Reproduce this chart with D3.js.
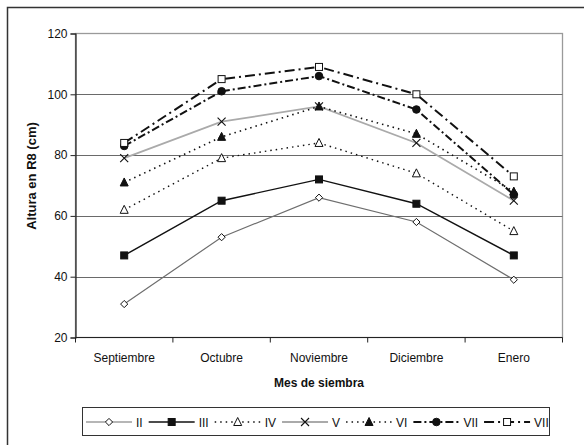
<!DOCTYPE html>
<html>
<head>
<meta charset="utf-8">
<script src="https://cdn.jsdelivr.net/npm/d3@7"></script>
<style>
  html, body { margin: 0; padding: 0; background: #fff; }
  svg { display: block; font-family: Arial, "Liberation Sans", sans-serif; }
  .bold { font-weight: bold; }
</style>
</head>
<body>
<svg id="chart" width="584" height="445"></svg>
<script>
// Months of sowing and the height reached at R8 (cm) for each group
const months = ["Septiembre", "Octubre", "Noviembre", "Diciembre", "Enero"];
const seriesNames = ["II", "III", "IV", "V", "VI", "VII", "VII"];
const valuesII   = [31, 53, 66, 58, 39];
const valuesIII  = [47, 65, 72, 64, 47];
const valuesIV   = [62, 79, 84, 74, 55];
const valuesV    = [79, 91, 96, 84, 65];
const valuesVI   = [71, 86, 96, 87, 68];
const valuesVIIa = [83, 101, 106, 95, 67];
const valuesVIIb = [84, 105, 109, 100, 73];
const yTicks = [20, 40, 60, 80, 100, 120];

const styles = [
  { stroke: "#6e6e6e", width: 1.2, dash: null,        marker: "diamond",  fill: "#fff" },
  { stroke: "#111",    width: 1.4, dash: null,        marker: "square",   fill: "#111" },
  { stroke: "#111",    width: 1.4, dash: "1.5,4",     marker: "triangle", fill: "#fff" },
  { stroke: "#aaaaaa", width: 1.8, dash: null,        marker: "cross",    fill: "none" },
  { stroke: "#111",    width: 1.6, dash: "1.5,4",     marker: "triangle", fill: "#111" },
  { stroke: "#111",    width: 2.0, dash: "8,3,2,3",   marker: "circle",   fill: "#111" },
  { stroke: "#111",    width: 2.0, dash: "10,4,2,4",  marker: "square",   fill: "#fff" }
];
const allValues = [valuesII, valuesIII, valuesIV, valuesV, valuesVI, valuesVIIa, valuesVIIb];
const series = seriesNames.map((name, i) => ({ name, values: allValues[i], style: styles[i] }));

const svg = d3.select("#chart");

// outer frame (runs off the right and bottom edges)
svg.append("rect").attr("x", 7.5).attr("y", 7.5).attr("width", 600).attr("height", 460)
  .attr("fill", "#fff").attr("stroke", "#333").attr("stroke-width", 1.5);

const plot = { left: 75.5, right: 562.5, top: 33.5, bottom: 337.5 };

const x = d3.scaleBand().domain(months).range([plot.left, plot.right]);
const y = d3.scaleLinear().domain([20, 120]).range([plot.bottom, plot.top]);

// plot area border (grey) and gridlines
svg.append("rect").attr("x", plot.left).attr("y", plot.top)
  .attr("width", plot.right - plot.left).attr("height", plot.bottom - plot.top)
  .attr("fill", "none").attr("stroke", "#9a9a9a").attr("stroke-width", 1.3);

svg.append("g").selectAll("line").data(yTicks.filter(t => t > 20 && t < 120)).join("line")
  .attr("x1", plot.left).attr("x2", plot.right)
  .attr("y1", d => Math.round(y(d)) + 0.5).attr("y2", d => Math.round(y(d)) + 0.5)
  .attr("stroke", "#6a6a6a").attr("stroke-width", 1.1);

// y axis
const yAxis = svg.append("g").attr("transform", `translate(${plot.left},0)`)
  .call(d3.axisLeft(y).tickValues(yTicks).tickSize(5).tickPadding(3));
yAxis.select(".domain").attr("stroke", "#222").attr("stroke-width", 1.2);
yAxis.selectAll(".tick line").attr("stroke", "#222");
yAxis.selectAll("text").attr("font-size", 12).attr("fill", "#111")
  .attr("font-family", null);

// x axis: ticks at the category boundaries
const xAxisG = svg.append("g").attr("transform", `translate(0,${plot.bottom})`);
xAxisG.append("line").attr("x1", plot.left).attr("x2", plot.right)
  .attr("stroke", "#222").attr("stroke-width", 1.2);
const bounds = months.map(m => x(m)).concat([plot.right]);
xAxisG.selectAll("line.tk").data(bounds).join("line").attr("class", "tk")
  .attr("x1", d => d).attr("x2", d => d).attr("y1", 0).attr("y2", 5)
  .attr("stroke", "#222");
xAxisG.selectAll("text").data(months).join("text")
  .attr("x", d => x(d) + x.bandwidth() / 2).attr("y", 24)
  .attr("text-anchor", "middle").attr("font-size", 12).attr("fill", "#111")
  .text(d => d);

// axis titles
svg.append("text").attr("class", "bold").attr("x", (plot.left + plot.right) / 2).attr("y", 387)
  .attr("text-anchor", "middle").attr("font-size", 12)
  .attr("fill", "#111").text("Mes de siembra");
svg.append("text").attr("class", "bold").attr("transform", `translate(36,176) rotate(-90)`)
  .attr("text-anchor", "middle").attr("font-size", 13)
  .attr("fill", "#111").text("Altura en R8 (cm)");

// marker drawing
function drawMarker(g, type, cx, cy, fill) {
  const s = 3.6;
  if (type === "diamond") {
    g.append("path").attr("d", `M${cx},${cy - s}L${cx + s},${cy}L${cx},${cy + s}L${cx - s},${cy}Z`)
      .attr("fill", fill).attr("stroke", "#111").attr("stroke-width", 1);
  } else if (type === "square") {
    g.append("rect").attr("x", cx - 3.5).attr("y", cy - 3.5).attr("width", 7).attr("height", 7)
      .attr("fill", fill).attr("stroke", "#111").attr("stroke-width", 1);
  } else if (type === "triangle") {
    g.append("path").attr("d", `M${cx},${cy - 4.5}L${cx + 4},${cy + 3.5}L${cx - 4},${cy + 3.5}Z`)
      .attr("fill", fill).attr("stroke", "#111").attr("stroke-width", 1);
  } else if (type === "circle") {
    g.append("circle").attr("cx", cx).attr("cy", cy).attr("r", 3.8)
      .attr("fill", fill).attr("stroke", "#111").attr("stroke-width", 1);
  } else if (type === "cross") {
    g.append("path").attr("d", `M${cx - 4},${cy - 4}L${cx + 4},${cy + 4}M${cx - 4},${cy + 4}L${cx + 4},${cy - 4}`)
      .attr("stroke", "#111").attr("stroke-width", 1.1).attr("fill", "none");
  }
}

// series lines and markers
const line = d3.line().x((d, i) => x(months[i]) + x.bandwidth() / 2).y(d => y(d));
const seriesG = svg.append("g");
series.forEach(s => {
  const g = seriesG.append("g");
  g.append("path").attr("d", line(s.values)).attr("fill", "none")
    .attr("stroke", s.style.stroke).attr("stroke-width", s.style.width)
    .attr("stroke-dasharray", s.style.dash);
});
series.forEach(s => {
  const g = seriesG.append("g");
  s.values.forEach((v, i) => drawMarker(g, s.style.marker, x(months[i]) + x.bandwidth() / 2, y(v), s.style.fill));
});

// legend
const legend = svg.append("g");
legend.append("rect").attr("x", 82.5).attr("y", 407.5).attr("width", 467).attr("height", 28)
  .attr("fill", "#fff").attr("stroke", "#333").attr("stroke-width", 1);
let lx = 86;
const ly = 422;
series.forEach(s => {
  const len = 46;
  legend.append("line").attr("x1", lx).attr("x2", lx + len).attr("y1", ly).attr("y2", ly)
    .attr("stroke", s.style.stroke).attr("stroke-width", s.style.width)
    .attr("stroke-dasharray", s.style.dash);
  drawMarker(legend, s.style.marker, lx + len / 2, ly, s.style.fill);
  const t = legend.append("text").attr("x", lx + len + 4).attr("y", ly + 4.5)
    .attr("font-size", 12).attr("fill", "#111").text(s.name);
  lx += len + 4 + t.node().getComputedTextLength() + 6;
});
</script>
</body>
</html>
